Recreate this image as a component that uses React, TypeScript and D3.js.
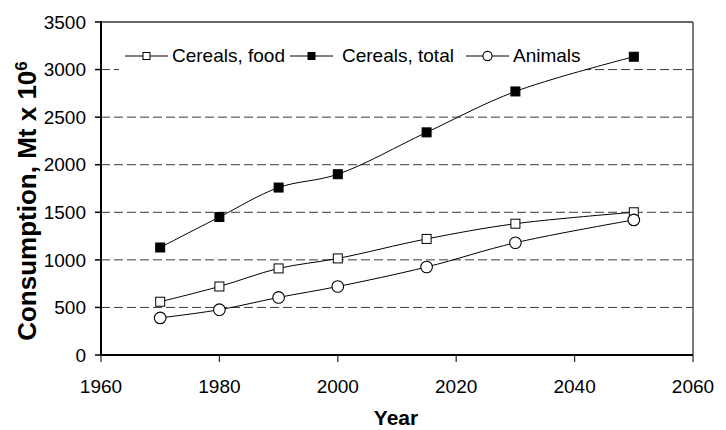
import React from "react";
import * as d3 from "d3";

const years = [1970, 1980, 1990, 2000, 2015, 2030, 2050];
const cerealsFood = [560, 720, 910, 1015, 1220, 1380, 1500];
const cerealsTotal = [1130, 1450, 1760, 1900, 2340, 2770, 3135];
const animals = [390, 476, 605, 720, 925, 1180, 1420];
const xTicks = [1960, 1980, 2000, 2020, 2040, 2060];
const yTicks = [0, 500, 1000, 1500, 2000, 2500, 3000, 3500];
const seriesNames = ["Cereals, food", "Cereals, total", "Animals"];

const W = 726;
const H = 430;
const L = 101, R = 693, T = 22, B = 355;
const FONT = "'Liberation Sans', Arial, Helvetica, sans-serif";

export default function App() {
  const x = d3.scaleLinear().domain([1960, 2060]).range([L, R]);
  const y = d3.scaleLinear().domain([0, 3500]).range([B, T]);
  const line = d3
    .line<[number, number]>()
    .x((d) => x(d[0]))
    .y((d) => y(d[1]))
    .curve(d3.curveCatmullRom.alpha(0.5));

  const series = [
    { name: seriesNames[0], values: cerealsFood, marker: "sqOpen" },
    { name: seriesNames[1], values: cerealsTotal, marker: "sqFill" },
    { name: seriesNames[2], values: animals, marker: "circle" },
  ];

  const marker = (type: string, cx: number, cy: number, big: boolean, key?: any) => {
    if (type === "circle") {
      const r = big ? 5.8 : 4.6;
      return <circle key={key} cx={cx} cy={cy} r={r} fill="#fff" stroke="#000" strokeWidth={1.1} />;
    }
    const s = big ? 9 : 7;
    return (
      <rect
        key={key}
        x={cx - s / 2}
        y={cy - s / 2}
        width={s}
        height={s}
        fill={type === "sqFill" ? "#000" : "#fff"}
        stroke="#000"
        strokeWidth={1}
      />
    );
  };

  const legendItems = [
    { lx: 125, tx: 172 },
    { lx: 290, tx: 342 },
    { lx: 466, tx: 513 },
  ];
  const legY = 56;

  return (
    <svg
      width={W}
      height={H}
      style={{ position: "absolute", left: 0, top: 0, background: "#fff" }}
      fontFamily={FONT}
    >
      <rect x={0} y={0} width={W} height={H} fill="#fff" />
      {yTicks
        .filter((t) => t > 0 && t < 3500)
        .map((t) => (
          <line
            key={"g" + t}
            x1={L}
            x2={R}
            y1={y(t)}
            y2={y(t)}
            stroke="#3a3a3a"
            strokeWidth={1}
            strokeDasharray="9,4"
          />
        ))}
      <rect x={119} y={44} width={466} height={30} fill="#fff" />
      <line x1={L} x2={R} y1={T} y2={T} stroke="#333" strokeWidth={1.4} />
      <line x1={R} x2={R} y1={T} y2={B} stroke="#444" strokeWidth={1.4} />
      {series.map((s) => (
        <g key={s.name}>
          <path
            d={line(years.map((yr, i) => [yr, s.values[i]] as [number, number])) || ""}
            fill="none"
            stroke="#000"
            strokeWidth={1}
          />
          {years.map((yr, i) => marker(s.marker, x(yr), y(s.values[i]), true, i))}
        </g>
      ))}
      <line x1={L} x2={L} y1={T - 1} y2={B + 1} stroke="#000" strokeWidth={2} />
      <line x1={L - 1} x2={R} y1={B} y2={B} stroke="#000" strokeWidth={2} />
      {yTicks.map((t) => (
        <g key={"y" + t}>
          <line x1={L - 6} x2={L} y1={y(t)} y2={y(t)} stroke="#000" strokeWidth={1.5} />
          <text x={86} y={y(t) + 6.7} textAnchor="end" fontSize={19} fill="#000">
            {t}
          </text>
        </g>
      ))}
      {xTicks.map((t) => (
        <g key={"x" + t}>
          <line x1={x(t)} x2={x(t)} y1={B} y2={B + 7} stroke="#333" strokeWidth={1.3} />
          <text x={x(t)} y={392.5} textAnchor="middle" fontSize={19} fill="#000">
            {t}
          </text>
        </g>
      ))}
      <text x={396} y={425} textAnchor="middle" fontSize={21} fontWeight="bold" fill="#000">
        Year
      </text>
      <text
        transform={`translate(36,201) rotate(-90)`}
        textAnchor="middle"
        fontSize={26}
        fontWeight="bold"
        fill="#000"
      >
        Consumption, Mt x 10
        <tspan fontSize={17} dy={-9}>
          6
        </tspan>
      </text>
      {series.map((s, i) => (
        <g key={"l" + i}>
          <line
            x1={legendItems[i].lx}
            x2={legendItems[i].lx + 43}
            y1={legY}
            y2={legY}
            stroke="#000"
            strokeWidth={1}
          />
          {marker(s.marker, legendItems[i].lx + 21.5, legY, false)}
          <text x={legendItems[i].tx} y={legY + 5.5} fontSize={19} fill="#000">
            {s.name}
          </text>
        </g>
      ))}
    </svg>
  );
}
